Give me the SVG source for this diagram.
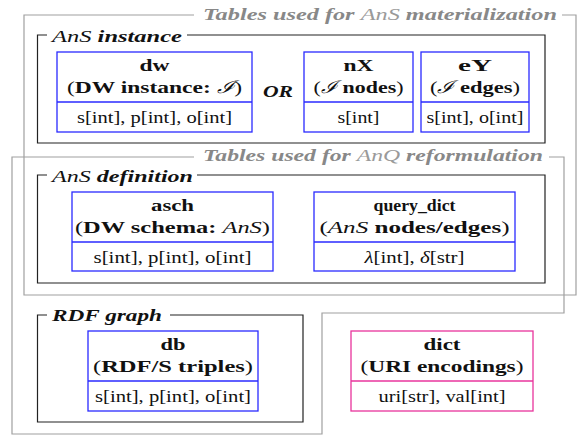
<svg xmlns="http://www.w3.org/2000/svg" width="581" height="436" viewBox="0 0 581 436">
<style>
text{font-family:"Liberation Serif","DejaVu Serif",serif;font-size:17.5px;fill:#111}
.c{text-anchor:middle}
.b{font-weight:bold}
.i{font-style:italic}
.n{font-weight:normal}
.ni{font-weight:normal;font-style:italic}
.gt{fill:#888}
.frame{fill:none;stroke:#a0a0a0;stroke-width:1.2}
.box{fill:none;stroke:#222;stroke-width:1.2}
.tb{fill:#fff;stroke:#2a2aff;stroke-width:1.3}
.tm{fill:#fff;stroke:#e8349c;stroke-width:1.3}
</style>
<rect width="581" height="436" fill="#fff"/>

<g id="frames">
<path class="frame" d="M194,15 H24 V295 H576 V15 H562"/>
<text class="gt b i" x="203" y="20" textLength="354" lengthAdjust="spacingAndGlyphs">Tables used for <tspan class="ni" style="fill:#9a9a9a">AnS</tspan> materialization</text>
<path class="frame" d="M194,157 H12 V434 H322 V313 H564 V157 H549"/>
<text class="gt b i" x="203" y="161" textLength="340" lengthAdjust="spacingAndGlyphs">Tables used for <tspan class="ni" style="fill:#9a9a9a">AnQ</tspan> reformulation</text>
</g>

<g id="ans-instance">
<path class="box" d="M47,35 H37.5 V143 H545 V35 H187"/>
<text class="b i" x="52" y="42" textLength="130" lengthAdjust="spacingAndGlyphs"><tspan class="ni">AnS</tspan> instance</text>
</g>
<g id="ans-definition">
<path class="box" d="M47,175 H37.5 V283 H545 V175 H197"/>
<text class="b i" x="52" y="182" textLength="141" lengthAdjust="spacingAndGlyphs"><tspan class="ni">AnS</tspan> definition</text>
</g>
<g id="rdf-graph">
<path class="box" d="M47,315 H37.5 V422 H303 V315 H170"/>
<text class="b i" x="52" y="321" textLength="110" lengthAdjust="spacingAndGlyphs">RDF graph</text>
</g>

<g id="dw">
<rect class="tb" x="57" y="52" width="195" height="80"/>
<line class="tb" x1="57" y1="102" x2="252" y2="102"/>
<text class="c b" x="154.5" y="71" textLength="30" lengthAdjust="spacingAndGlyphs">dw</text>
<text class="c b" x="154.5" y="93" textLength="175" lengthAdjust="spacingAndGlyphs"><tspan class="n">(</tspan>DW instance: <tspan class="ni">ℐ</tspan><tspan class="n">)</tspan></text>
<text class="c" x="154.5" y="123" textLength="155" lengthAdjust="spacingAndGlyphs">s[int], p[int], o[int]</text>
</g>

<g id="or">
<text class="b i" x="263" y="97" textLength="30" lengthAdjust="spacingAndGlyphs">OR</text>
</g>

<g id="nX">
<rect class="tb" x="304" y="52" width="109" height="80"/>
<line class="tb" x1="304" y1="102" x2="413" y2="102"/>
<text class="c b" x="358.5" y="71" textLength="30" lengthAdjust="spacingAndGlyphs">nX</text>
<text class="c b" x="358.5" y="93" textLength="90" lengthAdjust="spacingAndGlyphs"><tspan class="n">(</tspan><tspan class="ni">ℐ</tspan> nodes<tspan class="n">)</tspan></text>
<text class="c" x="358.5" y="123" textLength="42" lengthAdjust="spacingAndGlyphs">s[int]</text>
</g>

<g id="eY">
<rect class="tb" x="421" y="52" width="108" height="80"/>
<line class="tb" x1="421" y1="102" x2="529" y2="102"/>
<text class="c b" x="475" y="71" textLength="34" lengthAdjust="spacingAndGlyphs">eY</text>
<text class="c b" x="475" y="93" textLength="90" lengthAdjust="spacingAndGlyphs"><tspan class="n">(</tspan><tspan class="ni">ℐ</tspan> edges<tspan class="n">)</tspan></text>
<text class="c" x="475" y="123" textLength="97" lengthAdjust="spacingAndGlyphs">s[int], o[int]</text>
</g>

<g id="asch">
<rect class="tb" x="72" y="192" width="201" height="79"/>
<line class="tb" x1="72" y1="242" x2="273" y2="242"/>
<text class="c b" x="172.5" y="211" textLength="43" lengthAdjust="spacingAndGlyphs">asch</text>
<text class="c b" x="172.5" y="233" textLength="195" lengthAdjust="spacingAndGlyphs"><tspan class="n">(</tspan>DW schema: <tspan class="ni">AnS</tspan><tspan class="n">)</tspan></text>
<text class="c" x="172.5" y="263" textLength="158" lengthAdjust="spacingAndGlyphs">s[int], p[int], o[int]</text>
</g>

<g id="query_dict">
<rect class="tb" x="314" y="192" width="201" height="79"/>
<line class="tb" x1="314" y1="242" x2="515" y2="242"/>
<text class="c b" x="414.5" y="211" textLength="82" lengthAdjust="spacingAndGlyphs">query_dict</text>
<text class="c b" x="414.5" y="233" textLength="190" lengthAdjust="spacingAndGlyphs"><tspan class="n">(</tspan><tspan class="ni">AnS</tspan> nodes/edges<tspan class="n">)</tspan></text>
<text class="c" x="414.5" y="263" textLength="100" lengthAdjust="spacingAndGlyphs"><tspan class="i">λ</tspan>[int], <tspan class="i">δ</tspan>[str]</text>
</g>

<g id="db">
<rect class="tb" x="88" y="331" width="170" height="80"/>
<line class="tb" x1="88" y1="381" x2="258" y2="381"/>
<text class="c b" x="173" y="350" textLength="25" lengthAdjust="spacingAndGlyphs">db</text>
<text class="c b" x="173" y="372" textLength="160" lengthAdjust="spacingAndGlyphs"><tspan class="n">(</tspan>RDF/S triples<tspan class="n">)</tspan></text>
<text class="c" x="173" y="402" textLength="156" lengthAdjust="spacingAndGlyphs">s[int], p[int], o[int]</text>
</g>

<g id="dict">
<rect class="tm" x="351" y="331" width="182" height="80"/>
<line class="tm" x1="351" y1="381" x2="533" y2="381"/>
<text class="c b" x="442" y="350" textLength="37" lengthAdjust="spacingAndGlyphs">dict</text>
<text class="c b" x="442" y="372" textLength="163" lengthAdjust="spacingAndGlyphs"><tspan class="n">(</tspan>URI encodings<tspan class="n">)</tspan></text>
<text class="c" x="442" y="402" textLength="127" lengthAdjust="spacingAndGlyphs">uri[str], val[int]</text>
</g>
</svg>
